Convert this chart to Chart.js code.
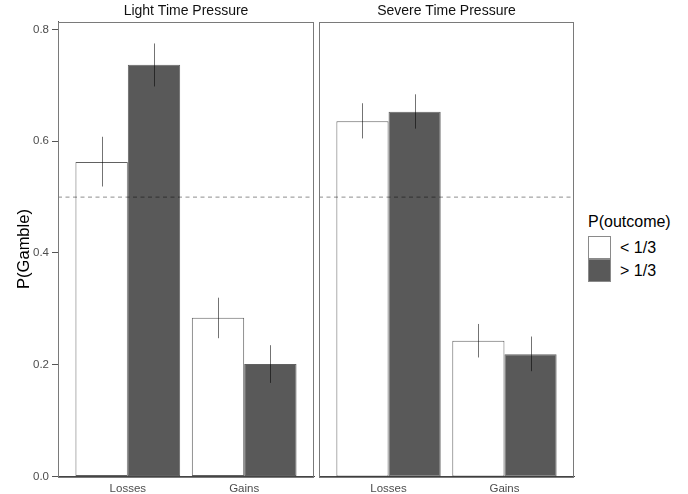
<!DOCTYPE html>
<html>
<head>
<meta charset="utf-8">
<script src="https://cdn.jsdelivr.net/npm/chart.js@4/dist/chart.umd.min.js"></script>
<style>
  html, body { margin: 0; padding: 0; background: #fff; }
  #wrap { position: relative; width: 688px; height: 494px; overflow: hidden; font-family: "Liberation Sans", Arial, sans-serif; }
  canvas { position: absolute; top: 0; }
  #c1 { left: 0; }
  #c2 { left: 316px; }
  #legend { position: absolute; left: 588px; top: 212px; color: #000; }
  #legend .ttl { font-size: 16px; line-height: 19px; height: 19px; margin-bottom: 5px; white-space: nowrap; }
  #legend .row { position: relative; height: 23px; }
  #legend .box { position: absolute; left: 0; top: 0; width: 23px; height: 23px; box-sizing: border-box; border: 1px solid #8a8a8a; }
  #legend .lab { position: absolute; left: 32px; top: 0; font-size: 16px; line-height: 23px; white-space: nowrap; }
</style>
</head>
<body>
<div id="wrap">
  <canvas id="c1" width="316" height="494"></canvas>
  <canvas id="c2" width="260" height="494"></canvas>
  <div id="legend"></div>
</div>
<script>
// ---- data ----
const categories = ['Losses', 'Gains'];
const panelTitles = ['Light Time Pressure', 'Severe Time Pressure'];
const seriesNames = ['< 1/3', '> 1/3'];
const legendTitle = 'P(outcome)';
const yTitle = 'P(Gamble)';
const yTicks = [0.0, 0.2, 0.4, 0.6, 0.8];
const refLine = 0.5;

const lightLow = [0.563, 0.284];
const lightHigh = [0.737, 0.2015];
const severeLow = [0.636, 0.243];
const severeHigh = [0.653, 0.219];

const lightLowErr = [[0.519, 0.608], [0.2475, 0.320]];
const lightHighErr = [[0.698, 0.775], [0.1675, 0.235]];
const severeLowErr = [[0.605, 0.668], [0.213, 0.273]];
const severeHighErr = [[0.6225, 0.684], [0.1885, 0.2505]];

// ---- styles ----
const fills = ['#ffffff', '#595959'];
const FONT = '"Liberation Sans", Arial, sans-serif';
const X_MIN = 0.4, X_MAX = 2.6, Y_MAX = 0.8143;

const errorBarPlugin = {
  id: 'errorBars',
  afterDatasetsDraw(chart) {
    const ctx = chart.ctx;
    const ys = chart.scales.y;
    ctx.save();
    ctx.strokeStyle = 'rgba(0,0,0,0.55)';
    ctx.lineWidth = 1;
    chart.data.datasets.forEach((ds, di) => {
      if (!ds.errors) return;
      const meta = chart.getDatasetMeta(di);
      meta.data.forEach((el, i) => {
        const e = ds.errors[i];
        const x = Math.round(el.x) + 0.5;
        ctx.beginPath();
        ctx.moveTo(x, ys.getPixelForValue(e[0]));
        ctx.lineTo(x, ys.getPixelForValue(e[1]));
        ctx.stroke();
      });
    });
    ctx.restore();
  }
};

const panelBorderPlugin = {
  id: 'panelBorder',
  afterDraw(chart) {
    const a = chart.chartArea;
    const ctx = chart.ctx;
    ctx.save();
    ctx.strokeStyle = '#7a7a7a';
    ctx.lineWidth = 1;
    ctx.strokeRect(Math.round(a.left) + 0.5, Math.round(a.top) + 0.5,
                   Math.round(a.right - a.left) - 1, Math.round(a.bottom - a.top));
    ctx.restore();
  }
};

function makeChart(canvasId, title, lowVals, highVals, lowErr, highErr, showY, pad) {
  const toPts = vals => vals.map((v, i) => ({ x: i + 1, y: v }));
  return new Chart(document.getElementById(canvasId), {
    type: 'bar',
    data: {
      datasets: [
        {
          type: 'line',
          label: 'ref',
          data: [{ x: X_MIN, y: refLine }, { x: X_MAX, y: refLine }],
          borderColor: 'rgba(0,0,0,0.45)',
          borderWidth: 1,
          borderDash: [4, 3.5],
          pointRadius: 0,
          fill: false,
          order: 0
        },
        {
          label: seriesNames[0],
          data: toPts(lowVals),
          errors: lowErr,
          backgroundColor: fills[0],
          borderColor: 'rgba(0,0,0,0.62)',
          borderWidth: 1,
          borderSkipped: false,
          categoryPercentage: 0.9,
          barPercentage: 1.0,
          order: 1
        },
        {
          label: seriesNames[1],
          data: toPts(highVals),
          errors: highErr,
          backgroundColor: fills[1],
          borderColor: 'rgba(0,0,0,0.62)',
          borderWidth: 1,
          borderSkipped: false,
          categoryPercentage: 0.9,
          barPercentage: 1.0,
          order: 1
        }
      ]
    },
    options: {
      responsive: false,
      animation: false,
      devicePixelRatio: 1,
      layout: { padding: { left: pad.left, right: pad.right, top: 0, bottom: 0 } },
      plugins: {
        legend: { display: false },
        tooltip: { enabled: false },
        title: {
          display: true,
          text: title,
          fullSize: false,
          color: '#111',
          font: { family: FONT, size: 14, weight: 'normal' },
          padding: { top: 3, bottom: 1.7 }
        }
      },
      scales: {
        x: {
          type: 'linear',
          min: X_MIN,
          max: X_MAX,
          offset: false,
          afterBuildTicks: s => { s.ticks = categories.map((c, i) => ({ value: i + 1 })); },
          afterFit: s => { s.height = 17.5; },
          grid: { display: false, drawTicks: false },
          border: { display: true, color: '#444', width: 1 },
          ticks: {
            autoSkip: false,
            maxRotation: 0,
            padding: 5,
            color: '#4d4d4d',
            font: { family: FONT, size: 11.5 },
            callback: v => categories[Math.round(v) - 1]
          }
        },
        y: {
          display: showY,
          min: 0,
          max: Y_MAX,
          afterBuildTicks: s => { s.ticks = yTicks.map(v => ({ value: v })); },
          afterFit: s => { if (showY) s.width = 58; },
          grid: { drawOnChartArea: false, drawTicks: true, tickLength: 6, color: '#555' },
          border: { display: true, color: '#555', width: 1 },
          ticks: {
            padding: 3,
            color: '#4d4d4d',
            font: { family: FONT, size: 11.5 },
            callback: v => v.toFixed(1)
          },
          title: {
            display: true,
            text: yTitle,
            color: '#000',
            font: { family: FONT, size: 16.5 },
            padding: { top: 14.8, bottom: 0 }
          }
        }
      }
    },
    plugins: [errorBarPlugin, panelBorderPlugin]
  });
}

makeChart('c1', panelTitles[0], lightLow, lightHigh, lightLowErr, lightHighErr, true, { left: 0, right: 2 });
makeChart('c2', panelTitles[1], severeLow, severeHigh, severeLowErr, severeHighErr, false, { left: 3, right: 2 });

// ---- legend (HTML text) ----
const lg = document.getElementById('legend');
const t = document.createElement('div');
t.className = 'ttl';
t.textContent = legendTitle;
lg.appendChild(t);
seriesNames.forEach((name, i) => {
  const row = document.createElement('div');
  row.className = 'row';
  const b = document.createElement('div');
  b.className = 'box';
  b.style.background = fills[i];
  const l = document.createElement('div');
  l.className = 'lab';
  l.textContent = name;
  row.appendChild(b);
  row.appendChild(l);
  lg.appendChild(row);
});
</script>
</body>
</html>
